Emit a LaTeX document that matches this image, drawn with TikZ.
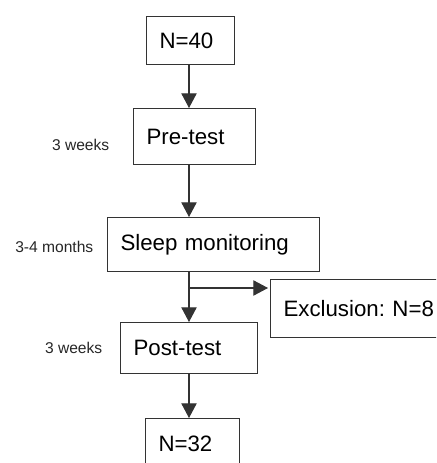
\documentclass[tikz,border=0pt]{standalone}
\usepackage{fontspec}
\setmainfont{Liberation Sans}
\usetikzlibrary{arrows.meta,positioning,calc}
\definecolor{linegray}{HTML}{333333}
\definecolor{labelgray}{HTML}{262626}
\frenchspacing

\begin{document}
\begin{tikzpicture}[x=0.75pt, y=-0.75pt,
  box/.style={draw=linegray, line width=0.8pt, inner xsep=9.75pt, align=left, anchor=north west, font=\fontsize{16.7}{20}\selectfont},
  side/.style={anchor=east, text=labelgray, font=\fontsize{11.7}{14}\selectfont},
  flow/.style={draw=linegray, line width=0.8pt, -{Triangle[length=11pt, width=11.5pt]}}]
  \path[use as bounding box, clip] (0,0) rectangle (436,463);
  % Stages
  \node[box, text width=46.5pt, minimum height=36pt] (n40) at (146,16) {N=40};
  \node[box, text width=72pt, minimum height=42pt] (pre) at (133,108) {Pre-test};
  \node[box, text width=139.5pt, minimum height=40.5pt] (sleep) at (107,217) {Sleep monitoring};
  \node[box, text width=130pt, minimum height=43.5pt] (excl) at (270,279) {Exclusion: N=8};
  \node[box, text width=83.25pt, minimum height=38.25pt] (post) at (120,322) {Post-test};
  \node[box, text width=51pt, minimum height=37.5pt] (n32) at (145,418) {N=32};
  % Durations
  \node[side] (wkpre) at (114,145) {3 weeks};
  \node[side] (mon) at (98,247) {3-4 months};
  \node[side] (wkpost) at (107,348) {3 weeks};
  % Connectors
  \coordinate (trunk) at (189,0);
  \coordinate (split) at (189,288);
  \draw[flow] (trunk |- n40.south) -- (trunk |- pre.north);
  \draw[flow] (trunk |- pre.south) -- (trunk |- sleep.north);
  \draw[flow] (trunk |- sleep.south) -- (trunk |- post.north);
  \draw[flow, shorten >=1.5pt] (split) -- (split -| excl.west);
  \draw[flow] (trunk |- post.south) -- (trunk |- n32.north);
\end{tikzpicture}
\end{document}
